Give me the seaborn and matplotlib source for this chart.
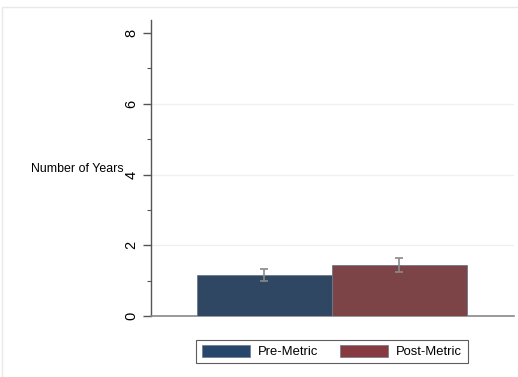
import matplotlib
matplotlib.use("Agg")
import matplotlib.pyplot as plt
import seaborn as sns
import pandas as pd
from matplotlib.patches import Rectangle, Patch

# Mean duration per period with confidence bounds
groups = ["Pre-Metric", "Post-Metric"]
means = [1.16, 1.45]
ci_low = [0.99, 1.25]
ci_high = [1.33, 1.63]
colors = ["#26476b", "#873a40"]

sns.set_theme(style="white")
plt.rcParams["font.family"] = ["Liberation Sans", "DejaVu Sans"]

df = pd.DataFrame({"group": groups, "mean": means})

fig = plt.figure(figsize=(5.18, 3.77), dpi=100)
ax = fig.add_axes([151 / 518, 1 - 316 / 377, (514 - 151) / 518, (316 - 20) / 377])

# outer frame of the graph region
fig.patches.append(Rectangle((2 / 518, -0.1), 1.2, 1 - 7 / 377 + 0.1,
                             transform=fig.transFigure, fill=False,
                             edgecolor="#e8e8e8", linewidth=1.0, zorder=0))

sns.barplot(data=df, x="group", y="mean", hue="group", palette=colors,
            width=1.0, errorbar=None, legend=False, ax=ax,
            edgecolor="#6a7a8a", linewidth=0.6, zorder=3)

for i, (lo, hi, m) in enumerate(zip(ci_low, ci_high, means)):
    ax.errorbar([i], [m], yerr=[[m - lo], [hi - m]], fmt="none",
                ecolor="#8a8a8a", elinewidth=1.2, capsize=2.6, capthick=1.2, zorder=4)

ax.set_xlim(-0.84, 1.85)
ax.set_ylim(0, 8.37)
ax.set_yticks([0, 2, 4, 6, 8])
ax.set_yticks([1, 3, 5, 7], minor=True)
ax.set_xticks([])
ax.set_xlabel("")
ax.set_ylabel("Number of Years", rotation=0, fontsize=8.9, color="#000000",
              ha="right", va="center")
ax.yaxis.set_label_coords(-(151 - 124) / 363, (316 - 169) / 296)

for y in [2, 4, 6]:
    ax.axhline(y, color="#eef1f1", linewidth=1.0, zorder=1)

ax.tick_params(axis="y", which="major", length=6, width=1.0, color="#555555",
               labelsize=10.5, labelcolor="#000000", pad=3, left=True)
ax.tick_params(axis="y", which="minor", length=3, width=0.8, color="#555555", left=True)
for lab in ax.get_yticklabels():
    lab.set_rotation(90)
    lab.set_va("center")

for side in ["top", "right"]:
    ax.spines[side].set_visible(False)
ax.spines["left"].set_color("#555555")
ax.spines["bottom"].set_color("#888888")
ax.spines["left"].set_linewidth(1.0)
ax.spines["bottom"].set_linewidth(1.2)

handles = [Patch(facecolor=c, edgecolor="#6a7a8a", linewidth=0.5) for c in colors]
leg = fig.legend(handles, groups, loc="center", bbox_to_anchor=(332 / 518, 1 - 351.5 / 377),
                 ncol=2, frameon=True, fancybox=False, fontsize=9.4,
                 handlelength=3.67, handleheight=1.0, columnspacing=1.6,
                 handletextpad=0.67, borderpad=0.4, borderaxespad=0)
leg.get_frame().set_edgecolor("#333333")
leg.get_frame().set_linewidth(0.8)
for t in leg.get_texts():
    t.set_color("#000000")

fig.savefig("out.png", dpi=100)
